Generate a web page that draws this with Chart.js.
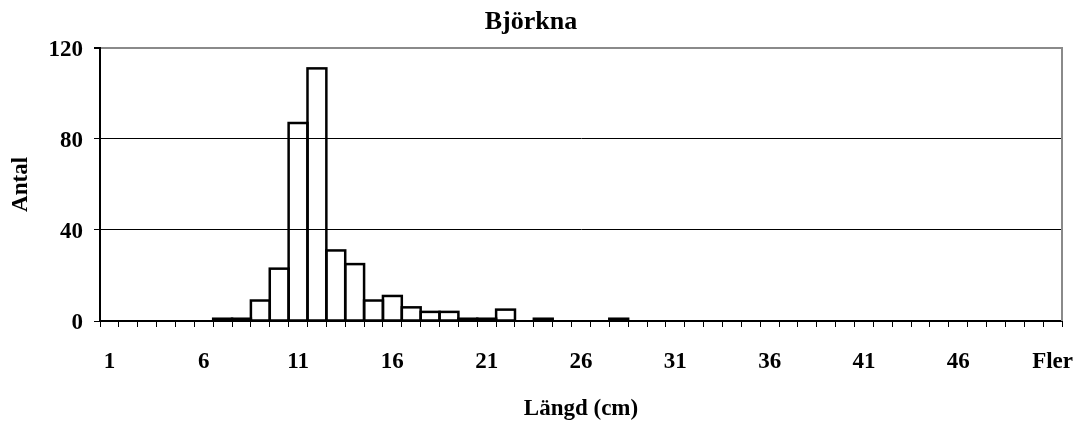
<!DOCTYPE html>
<html>
<head>
<meta charset="utf-8">
<title>Björkna</title>
<script src="https://cdn.jsdelivr.net/npm/chart.js@4/dist/chart.umd.min.js"></script>
<style>
    html, body { margin: 0; padding: 0; background: #fff; }
    #chart { display: block; }
</style>
</head>
<body>
<canvas id="chart" width="1082" height="426"></canvas>
<script>
// Längdfördelning björkna - histogram

// Längdklasser (cm), sista klassen samlar resten
const lengthClasses = [
    '1', '2', '3', '4', '5', '6', '7', '8', '9', '10',
    '11', '12', '13', '14', '15', '16', '17', '18', '19', '20',
    '21', '22', '23', '24', '25', '26', '27', '28', '29', '30',
    '31', '32', '33', '34', '35', '36', '37', '38', '39', '40',
    '41', '42', '43', '44', '45', '46', '47', '48', '49', '50',
    'Fler'
];

// Antal fiskar per längdklass
const counts = [
    0, 0, 0, 0, 0, 0, 1, 1, 9, 23,
    87, 111, 31, 25, 9, 11, 6, 4, 4, 1,
    1, 5, 0, 1, 0, 0, 0, 1, 0, 0,
    0, 0, 0, 0, 0, 0, 0, 0, 0, 0,
    0, 0, 0, 0, 0, 0, 0, 0, 0, 0,
    0
];

const yTicks = [0, 40, 80, 120];

const SERIF = "'Liberation Serif', 'Times New Roman', serif";
Chart.defaults.color = '#000';
Chart.defaults.font.family = SERIF;

// Staplarnas kontur ritas centrerad på kanten (som i kalkylark),
// så att grannstaplar delar linje och låga staplar syns tydligt.
const barOutline = {
    id: 'barOutline',
    afterDatasetsDraw(chart) {
        const { ctx } = chart;
        const meta = chart.getDatasetMeta(0);
        ctx.save();
        ctx.strokeStyle = '#000';
        ctx.lineWidth = 2.5;
        meta.data.forEach((bar, i) => {
            if (!counts[i]) return;
            const { x, y, base, width } = bar.getProps(['x', 'y', 'base', 'width'], true);
            ctx.strokeRect(x - width / 2, y, width, base - y);
        });
        ctx.restore();
    }
};

// grå ram till höger om ritytan
const rightFrame = {
    id: 'rightFrame',
    afterDraw(chart) {
        const { ctx, chartArea } = chart;
        ctx.save();
        ctx.strokeStyle = '#8a8a8a';
        ctx.lineWidth = 2;
        ctx.beginPath();
        ctx.moveTo(chartArea.right, chartArea.top - 1);
        ctx.lineTo(chartArea.right, chartArea.bottom);
        ctx.stroke();
        ctx.restore();
    }
};

new Chart(document.getElementById('chart').getContext('2d'), {
    type: 'bar',
    data: {
        labels: lengthClasses,
        datasets: [{
            label: 'Antal',
            data: counts,
            backgroundColor: 'rgba(255,255,255,0)',
            borderWidth: 0,
            inflateAmount: 0,
            barPercentage: 1.0,
            categoryPercentage: 1.0
        }]
    },
    plugins: [barOutline, rightFrame],
    options: {
        responsive: false,
        animation: false,
        layout: { padding: { left: 0, right: 20, top: 0, bottom: 0 } },
        plugins: {
            legend: { display: false },
            tooltip: { enabled: false },
            title: {
                display: true,
                text: 'Björkna',
                color: '#000',
                font: { size: 26, weight: 'bold', family: SERIF },
                padding: { top: 7, bottom: 9.7 }
            }
        },
        scales: {
            x: {
                offset: true,
                afterFit(scale) {
                    scale.height = 105;
                    scale.paddingLeft = 0;
                    scale.paddingRight = 0;
                },
                grid: {
                    offset: true,
                    drawOnChartArea: false,
                    drawTicks: true,
                    tickLength: 6,
                    color: '#000',
                    lineWidth: 1
                },
                border: { color: '#000', width: 2 },
                ticks: {
                    autoSkip: false,
                    maxRotation: 0,
                    padding: 21.5,
                    font: { size: 23, weight: 'bold', family: SERIF },
                    callback: function (value, index) {
                        return index % 5 === 0 ? this.getLabelForValue(value) : '';
                    }
                },
                title: {
                    display: true,
                    text: 'Längd (cm)',
                    font: { size: 23, weight: 'bold', family: SERIF },
                    padding: { top: 0, bottom: 3 }
                }
            },
            y: {
                min: yTicks[0],
                max: yTicks[yTicks.length - 1],
                afterFit(scale) {
                    scale.width = 100;
                    scale.paddingTop = 0;
                    scale.paddingBottom = 0;
                },
                afterBuildTicks(scale) {
                    scale.ticks = yTicks.map(v => ({ value: v }));
                },
                grid: {
                    color: ctx => ctx.tick && ctx.tick.value === 120 ? '#8a8a8a' : '#000',
                    lineWidth: ctx => ctx.tick && ctx.tick.value === 120 ? 2 : 1,
                    tickColor: '#000',
                    tickLength: 6
                },
                border: { color: '#000', width: 2 },
                ticks: {
                    padding: 11,
                    labelOffset: 2.5,
                    font: { size: 23, weight: 'bold', family: SERIF }
                },
                title: {
                    display: true,
                    text: 'Antal',
                    font: { size: 23, weight: 'bold', family: SERIF },
                    padding: { top: 7, bottom: 0 }
                }
            }
        }
    }
});
</script>
</body>
</html>
